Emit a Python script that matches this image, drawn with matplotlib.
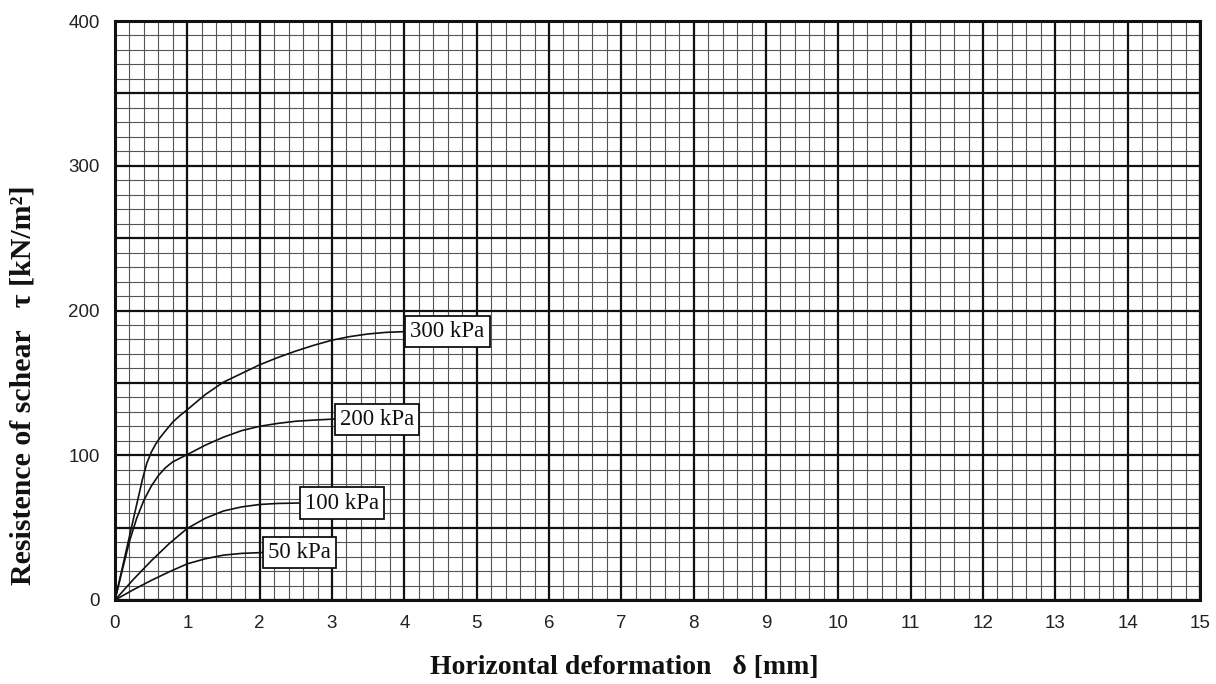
import matplotlib
matplotlib.use("Agg")
import matplotlib.pyplot as plt
import numpy as np

# ---- data ----
x_300 = [0, 0.1, 0.2, 0.3, 0.38, 0.44, 0.5, 0.56, 0.62, 0.7, 0.8, 0.9, 1.0, 1.25, 1.5, 1.75, 2.0, 2.25, 2.5, 2.75, 3.0, 3.25, 3.5, 3.75, 4.0]
y_300 = [0, 22, 44, 66, 83.5, 94.5, 102, 107.5, 112, 117, 123, 127.5, 131.5, 142, 150.5, 156.5, 162.5, 167.5, 172, 176, 179.5, 182, 183.8, 184.9, 185.4]

x_200 = [0, 0.1, 0.2, 0.3, 0.4, 0.5, 0.6, 0.7, 0.8, 0.9, 1.0, 1.25, 1.5, 1.75, 2.0, 2.25, 2.5, 2.75, 3.03]
y_200 = [0, 20.5, 40.5, 56.5, 69, 78.5, 86, 91.5, 95.5, 98, 100.5, 107, 112.5, 117, 120, 122, 123.5, 124.3, 125]

x_100 = [0, 0.25, 0.5, 0.75, 1.0, 1.25, 1.5, 1.75, 2.0, 2.25, 2.54]
y_100 = [0, 14, 27, 39, 49.5, 56.5, 61.5, 64.3, 66, 66.7, 67]

x_50 = [0, 0.25, 0.5, 0.75, 1.0, 1.25, 1.5, 1.75, 2.04]
y_50 = [0, 7, 13.5, 19.5, 25, 28.5, 31, 32.2, 32.8]

series_labels = ["300 kPa", "200 kPa", "100 kPa", "50 kPa"]

x_ticks = list(range(0, 16))
y_ticks = [0, 100, 200, 300, 400]

# ---- figure ----
fig = plt.figure(figsize=(12.16, 6.84), dpi=100)
ax = fig.add_axes([115 / 1216, 1 - 600 / 684, 1085 / 1216, 579 / 684])

ax.set_xlim(0, 15)
ax.set_ylim(0, 400)

# grid: minor
for xv in np.arange(0, 15.0001, 0.2):
    if abs(xv - round(xv)) > 1e-6:
        ax.axvline(xv, color="#555555", lw=0.8, zorder=1)
for yv in np.arange(0, 400.0001, 10):
    if abs(yv / 50 - round(yv / 50)) > 1e-6:
        ax.axhline(yv, color="#555555", lw=0.8, zorder=1)
# grid: major
for xv in range(0, 16):
    ax.axvline(xv, color="#111111", lw=1.6, zorder=2)
for yv in range(0, 401, 50):
    ax.axhline(yv, color="#111111", lw=1.6, zorder=2)

for s in ax.spines.values():
    s.set_linewidth(2.2)
    s.set_color("#111111")
    s.set_zorder(5)

ax.set_xticks(x_ticks)
ax.set_yticks(y_ticks)
ax.tick_params(length=0, labelsize=13.5)
ax.tick_params(axis="x", pad=11)
ax.tick_params(axis="y", pad=11)
for lab in ax.get_xticklabels() + ax.get_yticklabels():
    lab.set_fontfamily("Liberation Sans")
    lab.set_color("#222222")

series = [(x_300, y_300), (x_200, y_200), (x_100, y_100), (x_50, y_50)]
pad = 0.22
fs_lab = 16.5
for (xs, ys), name in zip(series, series_labels):
    ax.plot(xs, ys, color="#111111", lw=1.2, zorder=4, solid_joinstyle="round")
    ax.annotate(name, xy=(xs[-1], ys[-1]), xytext=(pad * fs_lab + 0.6, 0),
                textcoords="offset points", ha="left", va="center",
                fontsize=fs_lab, family="Liberation Serif", color="#111111",
                bbox=dict(boxstyle=f"square,pad={pad}", fc="white", ec="#111111", lw=1.3),
                zorder=6)

fig.text(624 / 1216, 1 - 667 / 684, "Horizontal deformation   \u03b4 [mm]",
         ha="center", va="center", fontsize=20, fontweight="bold",
         family="Liberation Serif", color="#111111")
fig.text(23 / 1216, 1 - 385 / 684, "Resistence of schear   \u03c4 [kN/m\u00b2]",
         ha="center", va="center", rotation=90, fontsize=21.5, fontweight="bold",
         family="Liberation Serif", color="#111111")

fig.savefig("out.png", dpi=100)
